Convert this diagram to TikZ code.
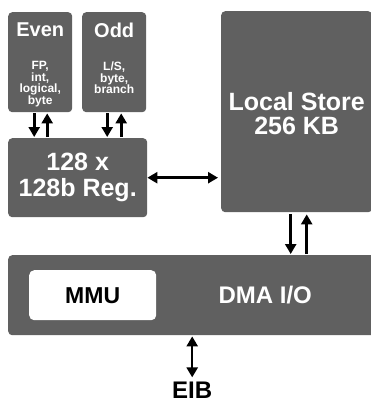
\documentclass[tikz,border=0pt]{standalone}
\usepackage{fontspec}
\setmainfont{Liberation Sans}
\usetikzlibrary{positioning}
\usetikzlibrary{arrows.meta}

\definecolor{blockgray}{HTML}{606060}

\tikzset{
  blk/.style={fill=blockgray, rounded corners=4pt, inner sep=0pt, anchor=north west},
  lbl/.style={text=white, font=\bfseries, align=center, inner sep=0pt},
  bus/.style={line width=3pt, -{Triangle[length=10pt,width=11pt]}},
  busboth/.style={line width=3pt, {Triangle[length=10pt,width=11pt]}-{Triangle[length=10pt,width=11pt]}},
}

\begin{document}
\begin{tikzpicture}[x=1pt, y=-1pt]
\useasboundingbox (0,0) rectangle (370,402);

% pipelines, registers, local store
\node[blk, minimum width=64pt, minimum height=100pt] (even) at (8,12) {};
\node[blk, minimum width=64pt, minimum height=100pt] (odd) at (82,12) {};
\node[blk, minimum width=139pt, minimum height=79pt] (reg) at (8,138) {};
\node[blk, minimum width=151pt, minimum height=201pt] (ls) at (221,11) {};

\node[lbl, font=\bfseries\fontsize{20}{20}\selectfont, below=11pt of even.north] (evenT) {Even};
\node[lbl, font=\bfseries\fontsize{20}{20}\selectfont, below=11pt of odd.north] (oddT) {Odd};
\node[lbl, font=\bfseries\fontsize{12}{11.5}\selectfont, below=24pt of evenT.south] (evenS) {FP,\\int,\\logical,\\byte};
\node[lbl, font=\bfseries\fontsize{12}{11.5}\selectfont, below=24pt of oddT.south] (oddS) {L/S,\\byte,\\branch};
\node[lbl, font=\bfseries\fontsize{25}{26}\selectfont] (regT) at (reg.center) {128 x\\128b Reg.};
\node[lbl, font=\bfseries\fontsize{25}{24}\selectfont, yshift=-2pt] (lsT) at (ls.center) {Local Store\\256 KB};

% DMA unit
\node[blk, minimum width=368pt, minimum height=80pt] (dma) at (8,255) {};
\node[blk, fill=white, rounded corners=5pt, minimum width=127pt, minimum height=50pt] (mmu) at (29,270) {};
\node[font=\bfseries\fontsize{23}{23}\selectfont, inner sep=0pt] (mmuT) at (mmu.center) {MMU};
\node[lbl, font=\bfseries\fontsize{24}{24}\selectfont, right=62pt of mmu] (dmaT) {DMA I/O};
\node[font=\bfseries\fontsize{24}{24}\selectfont, inner sep=0pt, below=46pt of dma.south] (eib) {EIB};

% links
\draw[bus, shorten <=1pt, shorten >=1pt] ([xshift=-6pt]even.south) -- ([xshift=-6pt]even.south |- reg.north);
\draw[bus, shorten <=1pt, shorten >=1pt] ([xshift=7pt]even.south |- reg.north) -- ([xshift=7pt]even.south);
\draw[bus, shorten <=1pt, shorten >=1pt] ([xshift=-7pt]odd.south) -- ([xshift=-7pt]odd.south |- reg.north);
\draw[bus, shorten <=1pt, shorten >=1pt] ([xshift=7pt]odd.south |- reg.north) -- ([xshift=7pt]odd.south);
\draw[busboth, shorten >=3pt] (reg.east) -- (reg.east -| ls.west);
\draw[bus, shorten <=2pt, shorten >=1pt] ([xshift=-6pt]ls.south) -- ([xshift=-6pt]ls.south |- dma.north);
\draw[bus, shorten <=1pt, shorten >=2pt] ([xshift=10pt]ls.south |- dma.north) -- ([xshift=10pt]ls.south);
\draw[busboth, line width=2.5pt, shorten <=1pt, shorten >=4pt] (dma.south) -- (eib.north);

\end{tikzpicture}
\end{document}
